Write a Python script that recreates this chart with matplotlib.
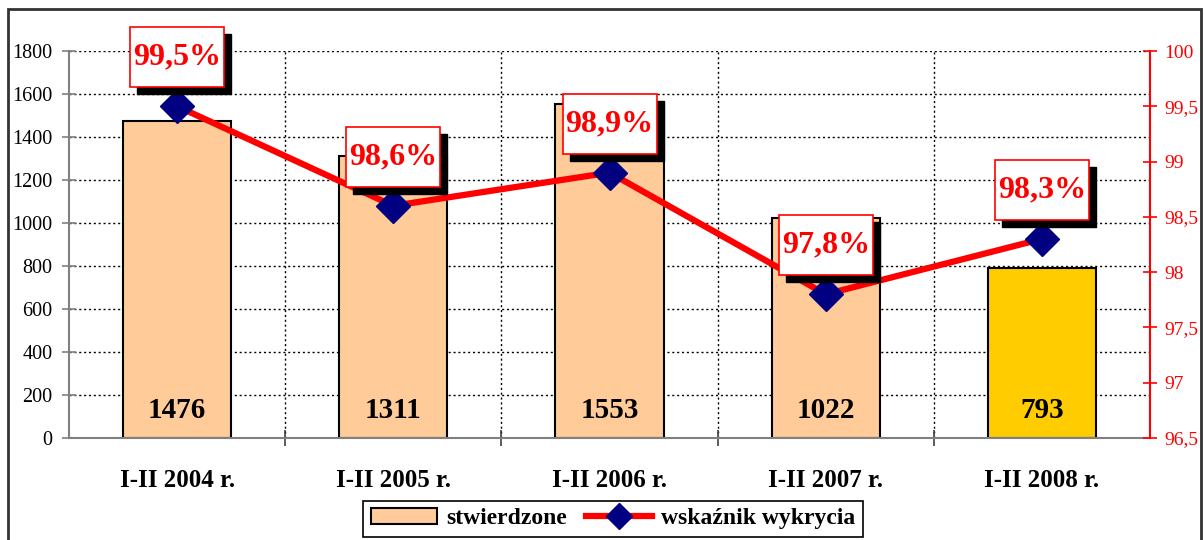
import matplotlib
matplotlib.use("Agg")
import matplotlib.pyplot as plt
import matplotlib.transforms as mtransforms
from matplotlib.patches import Rectangle, Patch
from matplotlib.lines import Line2D
from matplotlib.ticker import FixedLocator, FuncFormatter

categories = ["I-II 2004 r.", "I-II 2005 r.", "I-II 2006 r.", "I-II 2007 r.", "I-II 2008 r."]
stwierdzone = [1476, 1311, 1553, 1022, 793]
wskaznik = [99.5, 98.6, 98.9, 97.8, 98.3]
left_ticks = [0, 200, 400, 600, 800, 1000, 1200, 1400, 1600, 1800]
right_ticks = [96.5, 97, 97.5, 98, 98.5, 99, 99.5, 100]
bar_colors = ["#FFCC99", "#FFCC99", "#FFCC99", "#FFCC99", "#FFCC00"]

plt.rcParams['font.family'] = ['Liberation Serif', 'DejaVu Serif']

fig = plt.figure(figsize=(12.04, 5.40), dpi=100)
ax = fig.add_axes([69/1204, 102/540, (1150-69)/1204, (438-51)/540])
ax2 = ax.twinx()

x = list(range(len(categories)))
ax.bar(x, stwierdzone, width=0.5, color=bar_colors, edgecolor="black", linewidth=1.5, zorder=2)
ax.set_xlim(-0.5, len(categories) - 0.5)
ax.set_ylim(0, 1800)
ax.set_yticks(left_ticks)
ax.yaxis.set_major_formatter(FuncFormatter(lambda v, p: f"{int(v)}"))
ax.tick_params(axis="y", direction="inout", length=10, width=1.2, color="#808080", labelsize=14.5, pad=7)
ax.set_xticks(x)
ax.set_xticklabels(categories, fontsize=18, fontweight="bold")
ax.tick_params(axis="x", which="major", length=0, pad=22)
ax.xaxis.set_minor_locator(FixedLocator([i + 0.5 for i in range(len(categories) - 1)]))
ax.tick_params(axis="x", which="minor", direction="inout", length=12, width=1.2, color="#404040")
ax.grid(axis="y", which="major", linestyle=(0, (1.5, 2)), color="black", linewidth=1, zorder=0)
ax.grid(axis="x", which="minor", linestyle=(0, (1.5, 2)), color="black", linewidth=1, zorder=0)
ax.set_axisbelow(True)
for s in ["top", "right"]:
    ax.spines[s].set_visible(False)
ax.spines["left"].set_color("#808080")
ax.spines["left"].set_linewidth(1.5)
ax.spines["bottom"].set_color("#808080")
ax.spines["bottom"].set_linewidth(1.5)

for xi, v in zip(x, stwierdzone):
    ax.text(xi, 130, f"{v}", ha="center", va="center", fontsize=21, fontweight="bold", color="black", zorder=5)

ax2.plot(x, wskaznik, color="red", linewidth=4.5, marker="D", markersize=17,
         markerfacecolor="#000080", markeredgecolor="#000080", zorder=3)
ax2.set_ylim(96.5, 100)
ax2.set_yticks(right_ticks)
ax2.yaxis.set_major_formatter(FuncFormatter(lambda v, p: (f"{v:g}").replace(".", ",")))
ax2.tick_params(axis="y", direction="inout", length=10, width=1.2, color="red", labelcolor="red", labelsize=14, pad=5)
for s in ["top", "left", "bottom"]:
    ax2.spines[s].set_visible(False)
ax2.spines["right"].set_color("red")
ax2.spines["right"].set_linewidth(1.5)

# percent label boxes with shadow
fig.canvas.draw()
ident = mtransforms.IdentityTransform()
bw, bh, dy, sh = 94, 60, 49, 7
for xi, v in zip(x, wskaznik):
    px, py = ax2.transData.transform((xi, v))
    cx, cy = px, py + dy
    fig.add_artist(Rectangle((cx - bw/2 + sh, cy - bh/2 - sh), bw, bh, transform=ident,
                             facecolor="black", edgecolor="black", zorder=10))
    fig.add_artist(Rectangle((cx - bw/2, cy - bh/2), bw, bh, transform=ident,
                             facecolor="white", edgecolor="red", linewidth=1.2, zorder=11))
    t = fig.text(0, 0, (f"{v:.1f}%").replace(".", ","), ha="center", va="center",
                 fontsize=23, fontweight="bold", color="red", zorder=12)
    t.set_transform(ident)
    t.set_position((cx, cy))

handles = [Patch(facecolor="#FFCC99", edgecolor="black", linewidth=1.5, label="stwierdzone"),
           Line2D([], [], color="red", linewidth=4.5, marker="D", markersize=13,
                  markerfacecolor="#000080", markeredgecolor="#000080", label="wskaźnik wykrycia")]
leg = fig.legend(handles=handles, loc="upper center", bbox_to_anchor=(613/1204, 1 - 489/540), ncol=2,
                 frameon=True, fancybox=False, shadow=False, edgecolor="black",
                 prop={"size": 17, "weight": "bold"}, handlelength=2.8, handletextpad=0.4,
                 columnspacing=0.8, borderpad=0.3, framealpha=1)
leg.get_frame().set_linewidth(1.2)

# outer frame
fig.add_artist(Rectangle((8/1204, -0.05), (1201-8)/1204, 1.05 - 9/540, transform=fig.transFigure,
                         fill=False, edgecolor="#333333", linewidth=2, zorder=20))

fig.savefig("out.png", dpi=100)
